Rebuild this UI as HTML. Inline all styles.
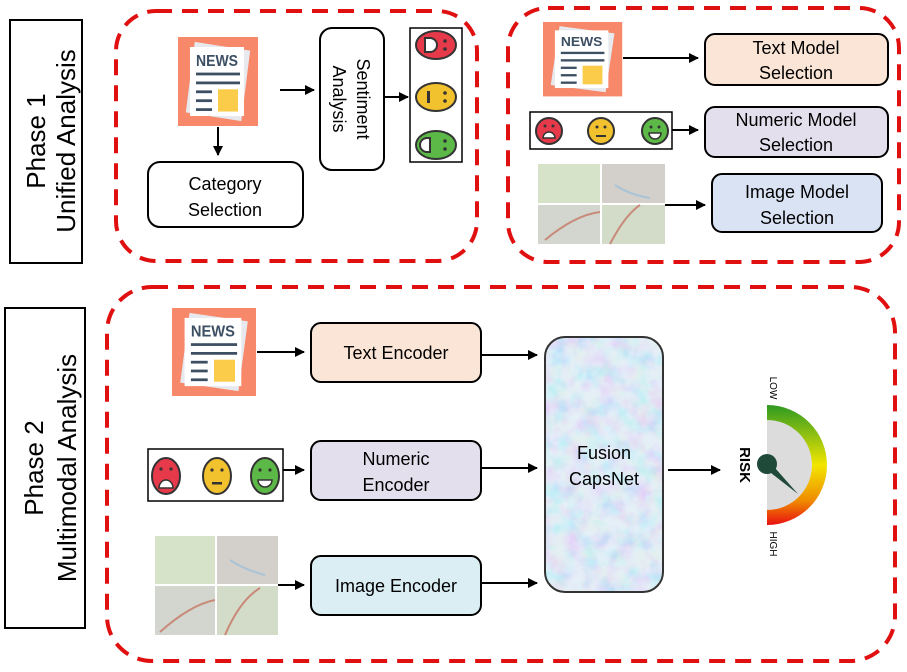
<!DOCTYPE html>
<html><head><meta charset="utf-8"><style>
html,body{margin:0;padding:0;background:#fff;}
svg{display:block;font-family:"Liberation Sans",sans-serif;}
</style></head><body>
<svg width="907" height="672" viewBox="0 0 907 672" xmlns="http://www.w3.org/2000/svg">
<defs>
<marker id="ar" markerWidth="10" markerHeight="10" refX="9" refY="5" orient="auto" markerUnits="userSpaceOnUse">
<path d="M0,0 L10,5 L0,10 z" fill="#000"/></marker>
<linearGradient id="gg" x1="0" y1="0" x2="0" y2="1">
<stop offset="0" stop-color="#2e9a22"/><stop offset="0.5" stop-color="#f2e600"/><stop offset="0.8" stop-color="#f08a00"/><stop offset="1" stop-color="#e81010"/></linearGradient>
<filter id="noise"><feTurbulence type="fractalNoise" baseFrequency="0.06" numOctaves="3" seed="5"/><feColorMatrix type="matrix" values="1.2 0 0 0 0.3  0 0.8 0 0 0.5  0 0 0.3 0 0.8  0 0 0 0 0.55"/></filter>
<clipPath id="fc"><rect x="545" y="337" width="118" height="255" rx="20"/></clipPath>
</defs>

<rect x="10" y="20" width="72" height="243" fill="#fff" stroke="#000" stroke-width="2"/>
<text transform="translate(45,141) rotate(-90)" font-size="26" text-anchor="middle">Phase 1</text>
<text transform="translate(75,141) rotate(-90)" font-size="26" text-anchor="middle">Unified Analysis</text>
<rect x="5" y="308" width="80" height="320" fill="#fff" stroke="#000" stroke-width="2"/>
<text transform="translate(43,468) rotate(-90)" font-size="26" text-anchor="middle">Phase 2</text>
<text transform="translate(76,468) rotate(-90)" font-size="26" text-anchor="middle">Multimodal Analysis</text>

<g fill="none" stroke="#e01010" stroke-width="4" stroke-dasharray="16,10">
<rect x="116" y="11" width="361" height="250" rx="40"/>
<rect x="508" y="8" width="391" height="254" rx="40"/>
<rect x="107" y="287" width="788" height="374" rx="45"/>
</g>

<g transform="translate(178,37) scale(1,1.1125)">
<rect width="80" height="80" fill="#f7886a"/>
<rect x="12" y="8" width="56" height="64" fill="#e7e9ee" transform="rotate(8 40 40)"/>
<rect x="12" y="9" width="54" height="62" fill="#fff"/>
<text x="39" y="26" font-size="14" font-weight="bold" fill="#3d4f63" text-anchor="middle">NEWS</text>
<rect x="18" y="32" width="44" height="2.5" fill="#3d4f63"/>
<rect x="18" y="40" width="44" height="2.5" fill="#3d4f63"/>
<rect x="18" y="48" width="16" height="2.5" fill="#3d4f63"/>
<rect x="18" y="56" width="16" height="2.5" fill="#3d4f63"/>
<rect x="18" y="64" width="16" height="2.5" fill="#3d4f63"/>
<rect x="40" y="47" width="20" height="20" fill="#fbcb4a"/>
</g>
<g transform="translate(543,22) scale(0.99,0.93)">
<rect width="80" height="80" fill="#f7886a"/>
<rect x="12" y="8" width="56" height="64" fill="#e7e9ee" transform="rotate(8 40 40)"/>
<rect x="12" y="9" width="54" height="62" fill="#fff"/>
<text x="39" y="26" font-size="14" font-weight="bold" fill="#3d4f63" text-anchor="middle">NEWS</text>
<rect x="18" y="32" width="44" height="2.5" fill="#3d4f63"/>
<rect x="18" y="40" width="44" height="2.5" fill="#3d4f63"/>
<rect x="18" y="48" width="16" height="2.5" fill="#3d4f63"/>
<rect x="18" y="56" width="16" height="2.5" fill="#3d4f63"/>
<rect x="18" y="64" width="16" height="2.5" fill="#3d4f63"/>
<rect x="40" y="47" width="20" height="20" fill="#fbcb4a"/>
</g>
<g transform="translate(172,308) scale(1.05,1.1)">
<rect width="80" height="80" fill="#f7886a"/>
<rect x="12" y="8" width="56" height="64" fill="#e7e9ee" transform="rotate(8 40 40)"/>
<rect x="12" y="9" width="54" height="62" fill="#fff"/>
<text x="39" y="26" font-size="14" font-weight="bold" fill="#3d4f63" text-anchor="middle">NEWS</text>
<rect x="18" y="32" width="44" height="2.5" fill="#3d4f63"/>
<rect x="18" y="40" width="44" height="2.5" fill="#3d4f63"/>
<rect x="18" y="48" width="16" height="2.5" fill="#3d4f63"/>
<rect x="18" y="56" width="16" height="2.5" fill="#3d4f63"/>
<rect x="18" y="64" width="16" height="2.5" fill="#3d4f63"/>
<rect x="40" y="47" width="20" height="20" fill="#fbcb4a"/>
</g>

<line x1="218" y1="127" x2="218" y2="155" stroke="#000" stroke-width="2" marker-end="url(#ar)"/>
<rect x="148" y="162" width="155" height="65" rx="12" fill="#fff" stroke="#000" stroke-width="2"/>
<text x="225" y="190" font-size="18" text-anchor="middle">Category</text>
<text x="225" y="216" font-size="18" text-anchor="middle">Selection</text>
<line x1="280" y1="90" x2="314" y2="90" stroke="#000" stroke-width="2" marker-end="url(#ar)"/>
<rect x="320" y="28" width="64" height="142" rx="12" fill="#fff" stroke="#000" stroke-width="2"/>
<text transform="translate(357,99) rotate(90)" font-size="18" text-anchor="middle">Sentiment</text>
<text transform="translate(333,99) rotate(90)" font-size="18" text-anchor="middle">Analysis</text>
<line x1="384" y1="97" x2="408" y2="97" stroke="#000" stroke-width="2" marker-end="url(#ar)"/>
<rect x="410" y="28" width="52" height="134" fill="#fff" stroke="#000" stroke-width="1.5"/>
<g stroke="#333" stroke-width="2">
<ellipse cx="436" cy="45" rx="20" ry="14" fill="#e63a4b"/>
<ellipse cx="436" cy="97" rx="20" ry="14" fill="#f2c12e"/>
<ellipse cx="436" cy="145" rx="20" ry="14" fill="#5cb947"/>
</g>
<path d="M425,38 h5 a7,7 0 0 1 0,14 h-5z" fill="#fff" stroke="#333" stroke-width="2"/>
<path d="M430,138 h-3 a7,7 0 0 0 0,14 h3z" fill="#fff" stroke="#333" stroke-width="2"/>
<rect x="427" y="91" width="3" height="12" fill="#333"/>
<g fill="#333"><circle cx="445" cy="41" r="1.8"/><circle cx="445" cy="49" r="1.8"/><circle cx="445" cy="93" r="1.8"/><circle cx="445" cy="101" r="1.8"/><circle cx="445" cy="141" r="1.8"/><circle cx="445" cy="149" r="1.8"/></g>

<line x1="623" y1="58" x2="698" y2="58" stroke="#000" stroke-width="2" marker-end="url(#ar)"/>
<rect x="705" y="34" width="183" height="51" rx="10" fill="#fbe5d6" stroke="#000" stroke-width="2"/>
<text x="796" y="54" font-size="18" text-anchor="middle">Text Model</text>
<text x="796" y="79" font-size="18" text-anchor="middle">Selection</text>

<rect x="530" y="112" width="142" height="37" fill="#fff" stroke="#000" stroke-width="1.5"/>
<g stroke="#333" stroke-width="2">
<circle cx="549" cy="131" r="13" fill="#e63a4b"/><circle cx="601" cy="131" r="13" fill="#f2c12e"/><circle cx="655" cy="131" r="13" fill="#5cb947"/>
</g>
<path d="M543,138 a6,6 0 0 1 12,0z" fill="#fff" stroke="#333" stroke-width="1.5"/>
<rect x="596" y="135" width="10" height="2" fill="#333"/>
<path d="M649,133 h12 a6,6 0 0 1 -12,0z" fill="#fff" stroke="#333" stroke-width="1.5"/>
<g fill="#333"><circle cx="597" cy="127" r="1.5"/><circle cx="605" cy="127" r="1.5"/><circle cx="651" cy="127" r="1.5"/><circle cx="659" cy="127" r="1.5"/><circle cx="545" cy="126" r="1.5"/><circle cx="553" cy="126" r="1.5"/></g>
<line x1="672" y1="130" x2="698" y2="130" stroke="#000" stroke-width="2" marker-end="url(#ar)"/>
<rect x="705" y="107" width="183" height="50" rx="10" fill="#e4dfec" stroke="#000" stroke-width="2"/>
<text x="796" y="126" font-size="18" text-anchor="middle">Numeric Model</text>
<text x="796" y="151" font-size="18" text-anchor="middle">Selection</text>

<g>
<rect x="538" y="164" width="62" height="39" fill="#d6e3c8"/>
<rect x="602" y="164" width="63" height="39" fill="#d3cfcb"/>
<rect x="538" y="205" width="62" height="39" fill="#d2d6cf"/>
<rect x="602" y="205" width="63" height="39" fill="#d3dcc9"/>
<path d="M545,240 Q575,215 600,212 M610,244 Q625,215 640,205" stroke="#c98a7a" stroke-width="2" fill="none"/>
<path d="M615,185 Q630,195 650,198" stroke="#a9c4d6" stroke-width="2" fill="none"/>
</g>
<line x1="665" y1="205" x2="705" y2="205" stroke="#000" stroke-width="2" marker-end="url(#ar)"/>
<rect x="712" y="174" width="170" height="58" rx="10" fill="#dae3f3" stroke="#000" stroke-width="2"/>
<text x="797" y="198" font-size="18" text-anchor="middle">Image Model</text>
<text x="797" y="224" font-size="18" text-anchor="middle">Selection</text>

<line x1="257" y1="352" x2="304" y2="352" stroke="#000" stroke-width="2" marker-end="url(#ar)"/>
<rect x="311" y="323" width="170" height="59" rx="10" fill="#fbe5d6" stroke="#000" stroke-width="2"/>
<text x="396" y="359" font-size="18" text-anchor="middle">Text Encoder</text>

<rect x="148" y="449" width="135" height="52" fill="#fff" stroke="#000" stroke-width="1.5"/>
<g stroke="#333" stroke-width="2">
<ellipse cx="166" cy="476" rx="14" ry="18" fill="#e63a4b"/><ellipse cx="217" cy="476" rx="14" ry="18" fill="#f2c12e"/><ellipse cx="265" cy="476" rx="14" ry="18" fill="#5cb947"/>
</g>
<path d="M159,488 a7,8 0 0 1 14,0z" fill="#fff" stroke="#333" stroke-width="1.5"/>
<rect x="212" y="482" width="10" height="2.5" fill="#333"/>
<path d="M258,480 h14 a7,7 0 0 1 -14,0z" fill="#fff" stroke="#333" stroke-width="1.5"/>
<g fill="#333"><circle cx="212" cy="470" r="1.6"/><circle cx="222" cy="470" r="1.6"/><circle cx="260" cy="470" r="1.6"/><circle cx="270" cy="470" r="1.6"/><circle cx="161" cy="469" r="1.6"/><circle cx="171" cy="469" r="1.6"/></g>
<line x1="283" y1="470" x2="304" y2="470" stroke="#000" stroke-width="2" marker-end="url(#ar)"/>
<rect x="311" y="441" width="170" height="59" rx="10" fill="#e4dfec" stroke="#000" stroke-width="2"/>
<text x="396" y="465" font-size="18" text-anchor="middle">Numeric</text>
<text x="396" y="491" font-size="18" text-anchor="middle">Encoder</text>

<g>
<rect x="155" y="536" width="60" height="48" fill="#d6e3c8"/>
<rect x="217" y="536" width="61" height="48" fill="#d3cfcb"/>
<rect x="155" y="586" width="60" height="49" fill="#d2d6cf"/>
<rect x="217" y="586" width="61" height="49" fill="#d3dcc9"/>
<path d="M160,632 Q190,605 215,600 M225,635 Q240,600 260,588" stroke="#c98a7a" stroke-width="2" fill="none"/>
<path d="M230,560 Q245,570 265,575" stroke="#a9c4d6" stroke-width="2" fill="none"/>
</g>
<line x1="278" y1="585" x2="304" y2="585" stroke="#000" stroke-width="2" marker-end="url(#ar)"/>
<rect x="311" y="556" width="170" height="59" rx="10" fill="#daeef3" stroke="#000" stroke-width="2"/>
<text x="396" y="592" font-size="18" text-anchor="middle">Image Encoder</text>

<line x1="482" y1="355" x2="537" y2="355" stroke="#000" stroke-width="2" marker-end="url(#ar)"/>
<line x1="482" y1="468" x2="537" y2="468" stroke="#000" stroke-width="2" marker-end="url(#ar)"/>
<line x1="482" y1="583" x2="537" y2="583" stroke="#000" stroke-width="2" marker-end="url(#ar)"/>

<rect x="545" y="337" width="118" height="255" rx="20" fill="#c2dcf0"/>
<rect x="545" y="337" width="118" height="255" fill="#fff" filter="url(#noise)" clip-path="url(#fc)"/>
<rect x="545" y="337" width="118" height="255" rx="20" fill="none" stroke="#333" stroke-width="2"/>
<text x="604" y="459" font-size="18" text-anchor="middle">Fusion</text>
<text x="604" y="485" font-size="18" text-anchor="middle">CapsNet</text>

<line x1="668" y1="470" x2="720" y2="470" stroke="#000" stroke-width="2" marker-end="url(#ar)"/>

<path d="M767,405 A60,60 0 0 1 767,525 Z" fill="url(#gg)"/>
<path d="M767,420 A45,45 0 0 1 767,510 Z" fill="#dcdcdc"/>
<path d="M762,466 L798,494 L768,460z" fill="#1f4a3a"/>
<circle cx="767" cy="464" r="10" fill="#1f4a3a"/>
<text transform="translate(740,465) rotate(90)" font-size="15" font-weight="bold" text-anchor="middle">RISK</text>
<text transform="translate(770,388) rotate(90)" font-size="10" text-anchor="middle">LOW</text>
<text transform="translate(770,544) rotate(90)" font-size="10" text-anchor="middle">HIGH</text>
</svg>
</body></html>
